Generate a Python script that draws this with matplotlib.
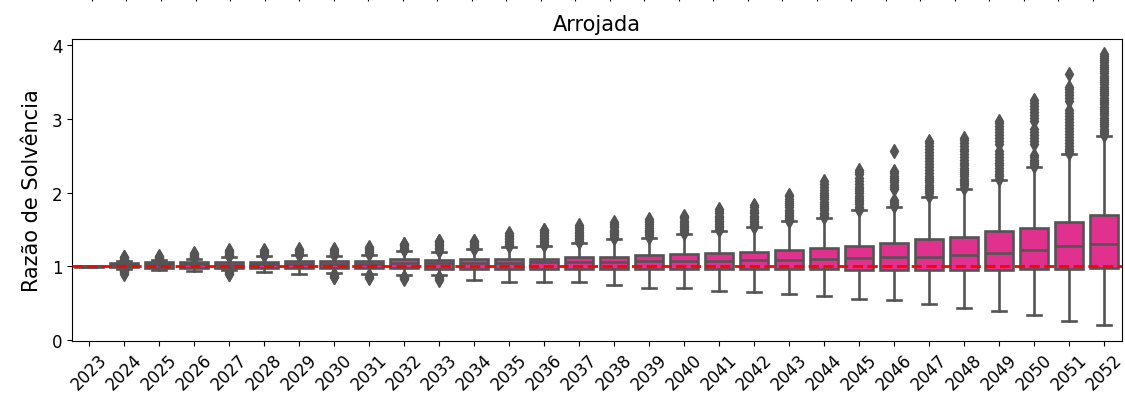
import matplotlib
matplotlib.use("Agg")
import matplotlib.pyplot as plt

# Razão de solvência por ano - perfil Arrojada
years = list(range(2023, 2053))

q1 = [0.995, 0.99, 0.98, 0.98, 0.98, 0.98, 0.98, 0.98, 0.98, 0.98,
      0.965, 0.96, 0.96, 0.96, 0.96, 0.96, 0.96, 0.96, 0.96, 0.96,
      0.97, 0.965, 0.945, 0.945, 0.955, 0.945, 0.955, 0.96, 0.96, 0.98]
med = [1.0, 1.02, 1.025, 1.025, 1.02, 1.025, 1.03, 1.03, 1.03, 1.04,
       1.04, 1.05, 1.05, 1.055, 1.06, 1.065, 1.07, 1.07, 1.075, 1.08,
       1.09, 1.10, 1.11, 1.12, 1.13, 1.16, 1.18, 1.22, 1.27, 1.30]
q3 = [1.005, 1.045, 1.06, 1.065, 1.06, 1.065, 1.075, 1.075, 1.075, 1.095,
      1.08, 1.10, 1.10, 1.10, 1.12, 1.13, 1.15, 1.165, 1.18, 1.195,
      1.225, 1.245, 1.275, 1.315, 1.365, 1.40, 1.475, 1.515, 1.605, 1.70]
whislo = [0.99, 0.97, 0.95, 0.94, 0.95, 0.92, 0.90, 0.91, 0.90, 0.88,
          0.88, 0.81, 0.79, 0.79, 0.79, 0.74, 0.70, 0.70, 0.67, 0.65,
          0.63, 0.60, 0.56, 0.545, 0.49, 0.44, 0.39, 0.34, 0.26, 0.20]
whishi = [1.01, 1.07, 1.08, 1.10, 1.13, 1.14, 1.15, 1.14, 1.16, 1.21,
          1.20, 1.23, 1.26, 1.28, 1.32, 1.37, 1.39, 1.44, 1.48, 1.53,
          1.61, 1.65, 1.76, 1.81, 1.94, 2.05, 2.17, 2.35, 2.52, 2.77]

fliers = [
    [],
    [1.08, 1.09, 1.10, 1.11, 1.12, 1.13,
     0.96, 0.95, 0.94, 0.93, 0.92, 0.91, 0.90],
    [1.09, 1.10, 1.11, 1.12, 1.13, 1.14],
    [1.11, 1.12, 1.13, 1.14, 1.15, 1.17, 1.18],
    [1.14, 1.15, 1.16, 1.18, 1.19, 1.21, 1.22,
     0.94, 0.92, 0.91, 0.90, 0.89],
    [1.15, 1.16, 1.18, 1.19, 1.21, 1.22],
    [1.16, 1.17, 1.19, 1.20, 1.22, 1.23],
    [1.15, 1.17, 1.18, 1.20, 1.22, 1.23,
     0.89, 0.87, 0.86, 0.85],
    [1.17, 1.19, 1.20, 1.22, 1.24, 1.25, 1.26,
     0.88, 0.86, 0.85, 0.84],
    [1.22, 1.24, 1.25, 1.27, 1.29, 1.30, 1.31,
     0.86, 0.85, 0.84, 0.83],
    [1.21, 1.23, 1.25, 1.27, 1.29, 1.31, 1.33, 1.34, 1.35,
     0.86, 0.84, 0.83, 0.82],
    [1.24, 1.26, 1.28, 1.29, 1.31, 1.33, 1.34, 1.35],
    [1.27, 1.29, 1.31, 1.33, 1.35, 1.37, 1.39, 1.41, 1.43, 1.45],
    [1.29, 1.31, 1.33, 1.35, 1.37, 1.39, 1.41, 1.43, 1.45, 1.47, 1.49,
     1.50],
    [1.33, 1.35, 1.37, 1.39, 1.41, 1.43, 1.45, 1.47, 1.50, 1.52, 1.54,
     1.56],
    [1.38, 1.40, 1.42, 1.44, 1.46, 1.48, 1.50, 1.53, 1.55, 1.57, 1.60],
    [1.40, 1.42, 1.44, 1.46, 1.48, 1.50, 1.52, 1.55, 1.57, 1.60, 1.62,
     1.64],
    [1.45, 1.47, 1.49, 1.51, 1.53, 1.55, 1.57, 1.60, 1.62, 1.65, 1.67,
     1.69],
    [1.49, 1.51, 1.53, 1.55, 1.57, 1.60, 1.62, 1.64, 1.67, 1.69, 1.72,
     1.75, 1.78],
    [1.54, 1.56, 1.58, 1.60, 1.62, 1.64, 1.67, 1.69, 1.72, 1.74, 1.77,
     1.80, 1.83],
    [1.62, 1.64, 1.66, 1.68, 1.70, 1.72, 1.75, 1.77, 1.80, 1.83, 1.86,
     1.89, 1.92, 1.95, 1.97],
    [1.67, 1.69, 1.71, 1.73, 1.76, 1.79, 1.82, 1.85, 1.88, 1.91, 1.94,
     1.97, 2.00, 2.04, 2.08, 2.12, 2.16],
    [1.77, 1.79, 1.81, 1.84, 1.87, 1.90, 1.93, 1.96, 1.99, 2.02, 2.05,
     2.08, 2.12, 2.16, 2.20, 2.25, 2.28, 2.31],
    [1.82, 1.84, 1.87, 1.90, 2.05, 2.08, 2.11, 2.14, 2.17, 2.20, 2.23,
     2.27, 2.30, 2.56],
    [1.96, 1.99, 2.02, 2.05, 2.08, 2.11, 2.14, 2.17, 2.20, 2.23, 2.27,
     2.31, 2.35, 2.39, 2.43, 2.47, 2.51, 2.55, 2.60, 2.64, 2.67, 2.70],
    [2.07, 2.10, 2.13, 2.16, 2.19, 2.22, 2.25, 2.28, 2.31, 2.34, 2.37,
     2.40, 2.44, 2.48, 2.52, 2.56, 2.60, 2.64, 2.68, 2.72, 2.74],
    [2.19, 2.22, 2.25, 2.29, 2.33, 2.37, 2.41, 2.45, 2.49, 2.53, 2.57,
     2.66, 2.70, 2.74, 2.78, 2.82, 2.86, 2.90, 2.94, 2.97],
    [2.36, 2.39, 2.42, 2.45, 2.48, 2.51, 2.66, 2.70, 2.74, 2.78, 2.82,
     2.86, 2.98, 3.02, 3.06, 3.10, 3.14, 3.18, 3.22, 3.26],
    [2.54, 2.57, 2.60, 2.64, 2.68, 2.72, 2.76, 2.80, 2.84, 2.88, 2.92,
     2.96, 3.00, 3.04, 3.08, 3.12, 3.25, 3.29, 3.33, 3.37, 3.41, 3.44,
     3.61],
    [2.78, 2.81, 2.84, 2.87, 2.90, 2.93, 2.96, 2.99, 3.02, 3.05, 3.08,
     3.11, 3.14, 3.17, 3.20, 3.23, 3.26, 3.29, 3.32, 3.35, 3.38, 3.41,
     3.44, 3.47, 3.50, 3.53, 3.56, 3.59, 3.62, 3.65, 3.68, 3.71, 3.74,
     3.77, 3.80, 3.83, 3.86, 3.89],
]

pink = '#e0318f'
gray = '#545454'
lw = 1.9

fig = plt.figure(figsize=(11.25, 4.02), dpi=100)
ax = fig.add_axes([0.064, 0.15, 0.933, 0.751])

stats = []
for i, yr in enumerate(years):
    stats.append(dict(label=str(yr), med=med[i], q1=q1[i], q3=q3[i],
                      whislo=whislo[i], whishi=whishi[i], fliers=fliers[i]))

ax.bxp(stats, positions=range(len(years)), widths=0.8, patch_artist=True,
       boxprops=dict(facecolor=pink, edgecolor=gray, linewidth=lw),
       medianprops=dict(color=gray, linewidth=lw),
       whiskerprops=dict(color=gray, linewidth=lw),
       capprops=dict(color=gray, linewidth=lw),
       flierprops=dict(marker='d', markersize=7.5, markerfacecolor=gray,
                       markeredgecolor=gray))
ax.axhline(1, color='red', linestyle='--', linewidth=2, zorder=5)

ax.set_xlim(-0.5, len(years) - 0.5)
ax.set_ylim(-0.01, 4.09)
ax.set_xticks(range(len(years)))
ax.set_xticklabels(years, rotation=45)
ax.set_yticks([0, 1, 2, 3, 4])
ax.tick_params(axis='both', labelsize=12)
ax.set_title('Arrojada', fontsize=15)
ax.set_ylabel('Razão de Solvência', fontsize=15, labelpad=7)

# tick stubs of the panel above, cut off at the top edge
ax_top = fig.add_axes([74.7 / 1125, 1 + 3 / 402, 1035.5 / 1125, 0.1])
ax_top.set_xlim(-0.5, len(years) - 0.5)
ax_top.set_xticks(range(len(years)))
ax_top.set_xticklabels([])
ax_top.set_yticks([])
ax_top.set_frame_on(False)

fig.savefig('out.png', dpi=100)
